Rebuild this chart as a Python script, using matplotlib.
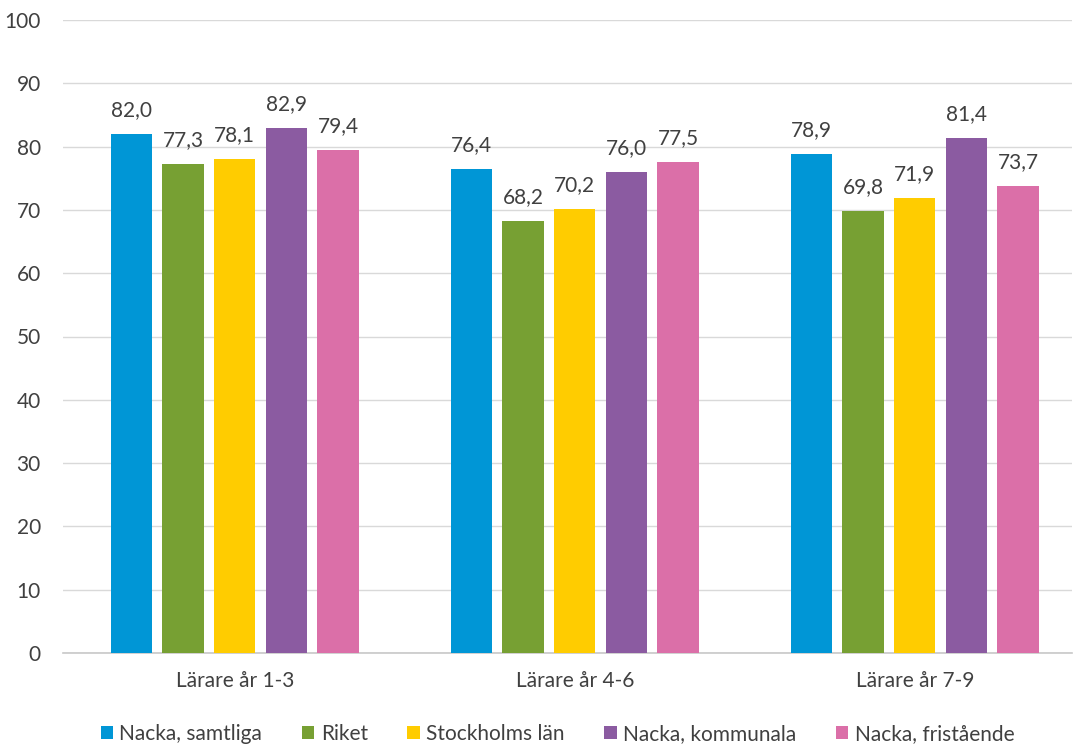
import matplotlib
matplotlib.use("Agg")
from matplotlib import pyplot as plt
import numpy as np

plt.rcParams['font.family'] = ['Lato', 'DejaVu Sans']

# Data
categories = ['Lärare år 1-3', 'Lärare år 4-6', 'Lärare år 7-9']
series = ['Nacka, samtliga', 'Riket', 'Stockholms län', 'Nacka, kommunala', 'Nacka, fristående']
values = {
    'Nacka, samtliga': [82.0, 76.4, 78.9],
    'Riket': [77.3, 68.2, 69.8],
    'Stockholms län': [78.1, 70.2, 71.9],
    'Nacka, kommunala': [82.9, 76.0, 81.4],
    'Nacka, fristående': [79.4, 77.5, 73.7],
}
colors = ['#0096D6', '#77A033', '#FFCC00', '#8B5BA1', '#DB6FA8']

fig = plt.figure(figsize=(10.75, 7.49), dpi=100)
ax = fig.add_axes([63 / 1075, 1 - 653 / 749, (1072 - 63) / 1075, (653 - 20) / 749])

x = np.arange(len(categories))
step = 0.152
width = 0.122
text_color = '#404040'
fs = 15
for i, (name, c) in enumerate(zip(series, colors)):
    offs = (i - 2) * step
    bars = ax.bar(x + offs, values[name], width, color=c, label=name, zorder=3)
    for b, v in zip(bars, values[name]):
        ax.text(b.get_x() + b.get_width() / 2, v + 2.2, f'{v:.1f}'.replace('.', ','),
                ha='center', va='bottom', fontsize=fs, color=text_color)

ax.set_xlim(-0.505, -0.505 + 1009 / 340)
ax.set_ylim(0, 100)
ax.set_yticks(range(0, 101, 10))
ax.set_xticks(x)
ax.set_xticklabels(categories)
ax.tick_params(axis='both', length=0, labelsize=fs, colors=text_color)
ax.tick_params(axis='y', pad=16)
ax.tick_params(axis='x', pad=13)
ax.grid(axis='y', color='#D9D9D9', linewidth=1, zorder=0)
for s in ['top', 'right', 'left']:
    ax.spines[s].set_visible(False)
ax.spines['bottom'].set_color('#C8C8C8')
ax.spines['bottom'].set_linewidth(1.2)

ax.legend(loc='center', bbox_to_anchor=(0.49, -0.128), ncol=5, frameon=False,
          fontsize=fs, handlelength=0.6, handleheight=0.6, handletextpad=0.3,
          columnspacing=1.9, labelcolor=text_color)

fig.savefig('out.png', dpi=100)
